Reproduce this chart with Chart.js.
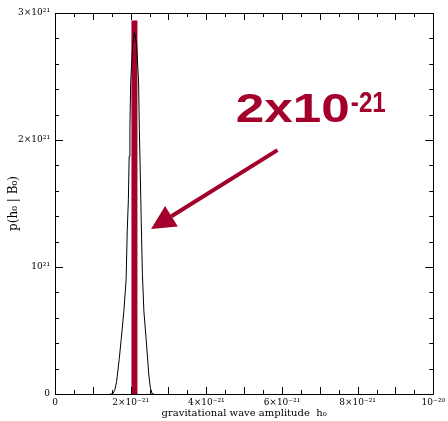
<!DOCTYPE html>
<html>
<head>
<meta charset="utf-8">
<script src="https://cdn.jsdelivr.net/npm/chart.js@4.4.1/dist/chart.umd.min.js"></script>
<style>
  html, body { margin: 0; padding: 0; background: #ffffff; }
  #wrap { width: 448px; height: 421px; }
</style>
</head>
<body>
<div id="wrap"><canvas id="c" width="448" height="421"></canvas></div>
<script>
// Units: x in 1e-21 (strain), y in 1e21 (probability density)
const curveX = [1.45, 1.52, 1.58, 1.63, 1.70, 1.75, 1.82, 1.88, 1.91, 1.94, 1.96, 1.98, 2.00, 2.05, 2.10, 2.16, 2.21, 2.23, 2.25, 2.28, 2.31, 2.35, 2.41, 2.48, 2.52, 2.57, 2.62];
const curveY = [0.00, 0.00, 0.03, 0.10, 0.28, 0.43, 0.65, 0.90, 1.29, 1.53, 1.87, 2.08, 2.45, 2.75, 2.85, 2.75, 2.45, 2.08, 1.80, 1.35, 0.95, 0.65, 0.43, 0.15, 0.05, 0.00, 0.00];

// Marked value (red vertical line)
const markX = [2.10, 2.10];
const markY = [0.00, 2.94];

// Tick values and labels
const xTickValues = [0, 2, 4, 6, 8, 10];
const xTickLabels = ['0', '2×10⁻²¹', '4×10⁻²¹', '6×10⁻²¹', '8×10⁻²¹', '10⁻²⁰'];
const yTickValues = [0, 1, 2, 3];
const yTickLabels = ['0', '10²¹', '2×10²¹', '3×10²¹'];

// Annotation (data coordinates)
const annText = '2x10';
const annSup = '-21';
const annTextPos = [4.78, 2.14];
const arrowFrom = [5.88, 1.92];
const arrowTo = [2.54, 1.30];

const RED = '#a3002b';

const boxTicks = {
  id: 'boxTicks',
  afterDatasetsDraw(chart) {
    const { ctx, chartArea: a, scales: { x, y } } = chart;
    ctx.save();
    ctx.strokeStyle = '#000';
    ctx.lineWidth = 1;
    ctx.beginPath();
    ctx.rect(Math.round(a.left) + 0.5, Math.round(a.top) + 0.5, Math.round(a.right - a.left), Math.round(a.bottom - a.top));
    ctx.stroke();
    ctx.beginPath();
    for (let v = 0; v <= 10.001; v += 0.5) {
      const px = Math.round(x.getPixelForValue(v)) + 0.5;
      const len = Math.abs(v - Math.round(v)) < 1e-6 ? 7 : 4;
      ctx.moveTo(px, a.bottom); ctx.lineTo(px, a.bottom - len);
      ctx.moveTo(px, a.top); ctx.lineTo(px, a.top + len);
    }
    for (let v = 0; v <= 3.001; v += 0.2) {
      const py = Math.round(y.getPixelForValue(v)) + 0.5;
      const len = Math.abs(v - Math.round(v)) < 1e-6 ? 8 : 4;
      ctx.moveTo(a.left, py); ctx.lineTo(a.left + len, py);
      ctx.moveTo(a.right, py); ctx.lineTo(a.right - len, py);
    }
    ctx.stroke();
    ctx.restore();
  },
  afterDraw(chart) {
    const { ctx, scales: { x, y } } = chart;
    ctx.save();
    ctx.fillStyle = RED;
    ctx.strokeStyle = RED;
    // arrow
    const x0 = x.getPixelForValue(arrowFrom[0]), y0 = y.getPixelForValue(arrowFrom[1]);
    const x1 = x.getPixelForValue(arrowTo[0]), y1 = y.getPixelForValue(arrowTo[1]);
    const ang = Math.atan2(y1 - y0, x1 - x0);
    const headLen = 24, headHalf = 12;
    const bx = x1 - headLen * Math.cos(ang), by = y1 - headLen * Math.sin(ang);
    ctx.lineWidth = 4;
    ctx.beginPath(); ctx.moveTo(x0, y0); ctx.lineTo(bx, by); ctx.stroke();
    ctx.beginPath();
    ctx.moveTo(x1, y1);
    ctx.lineTo(bx + headHalf * Math.sin(ang), by - headHalf * Math.cos(ang));
    ctx.lineTo(bx - headHalf * Math.sin(ang), by + headHalf * Math.cos(ang));
    ctx.closePath(); ctx.fill();
    // text
    const tx = x.getPixelForValue(annTextPos[0]), ty = y.getPixelForValue(annTextPos[1]);
    ctx.font = 'bold 41px "Liberation Sans", Arial, sans-serif';
    ctx.textBaseline = 'alphabetic';
    ctx.textAlign = 'left';
    const w = ctx.measureText(annText).width;
    const sx = 114 / w;
    ctx.save(); ctx.translate(tx, ty); ctx.scale(sx, 1); ctx.fillText(annText, 0, 0); ctx.restore();
    ctx.font = 'bold 29px "Liberation Sans", Arial, sans-serif';
    const w2 = ctx.measureText(annSup).width;
    const sx2 = 35 / w2;
    ctx.save(); ctx.translate(tx + 115, ty - 10); ctx.scale(sx2, 1); ctx.fillText(annSup, 0, 0); ctx.restore();
    ctx.restore();
  }
};

Chart.defaults.font.family = '"DejaVu Serif", "Liberation Serif", serif';
Chart.defaults.font.size = 9;
Chart.defaults.color = '#000';

new Chart(document.getElementById('c'), {
  type: 'scatter',
  data: {
    datasets: [
      {
        data: curveX.map((v, i) => ({ x: v, y: curveY[i] })),
        showLine: true, borderColor: '#000', borderWidth: 1, pointRadius: 0, tension: 0
      },
      {
        data: markX.map((v, i) => ({ x: v, y: markY[i] })),
        showLine: true, borderColor: RED, borderWidth: 6, pointRadius: 0, borderCapStyle: 'butt'
      }
    ]
  },
  options: {
    responsive: false,
    animation: false,
    layout: { padding: { top: 13, right: 12, left: 0, bottom: 0 } },
    plugins: { legend: { display: false }, tooltip: { enabled: false } },
    scales: {
      x: {
        type: 'linear', min: 0, max: 10,
        grid: { display: false, drawTicks: false }, border: { display: false },
        afterBuildTicks(s) { s.ticks = xTickValues.map(v => ({ value: v })); },
        afterFit(s) { s.height = 27; },
        ticks: {
          padding: 3, maxRotation: 0, autoSkip: false,
          callback: (v) => { const i = xTickValues.indexOf(v); return i >= 0 ? xTickLabels[i] : ''; }
        },
        title: { display: true, text: 'gravitational wave amplitude  h₀', font: { size: 10 }, padding: { top: 0, bottom: 2 } }
      },
      y: {
        type: 'linear', min: 0, max: 3,
        grid: { display: false, drawTicks: false }, border: { display: false },
        afterBuildTicks(s) { s.ticks = yTickValues.map(v => ({ value: v })); },
        afterFit(s) { s.width = 55; },
        ticks: {
          padding: 5, autoSkip: false,
          callback: (v) => { const i = yTickValues.indexOf(v); return i >= 0 ? yTickLabels[i] : ''; }
        },
        title: { display: true, text: 'p(h₀ | B₀)', font: { size: 12 }, padding: { top: 7, bottom: 0 } }
      }
    }
  },
  plugins: [boxTicks]
});
</script>
</body>
</html>
